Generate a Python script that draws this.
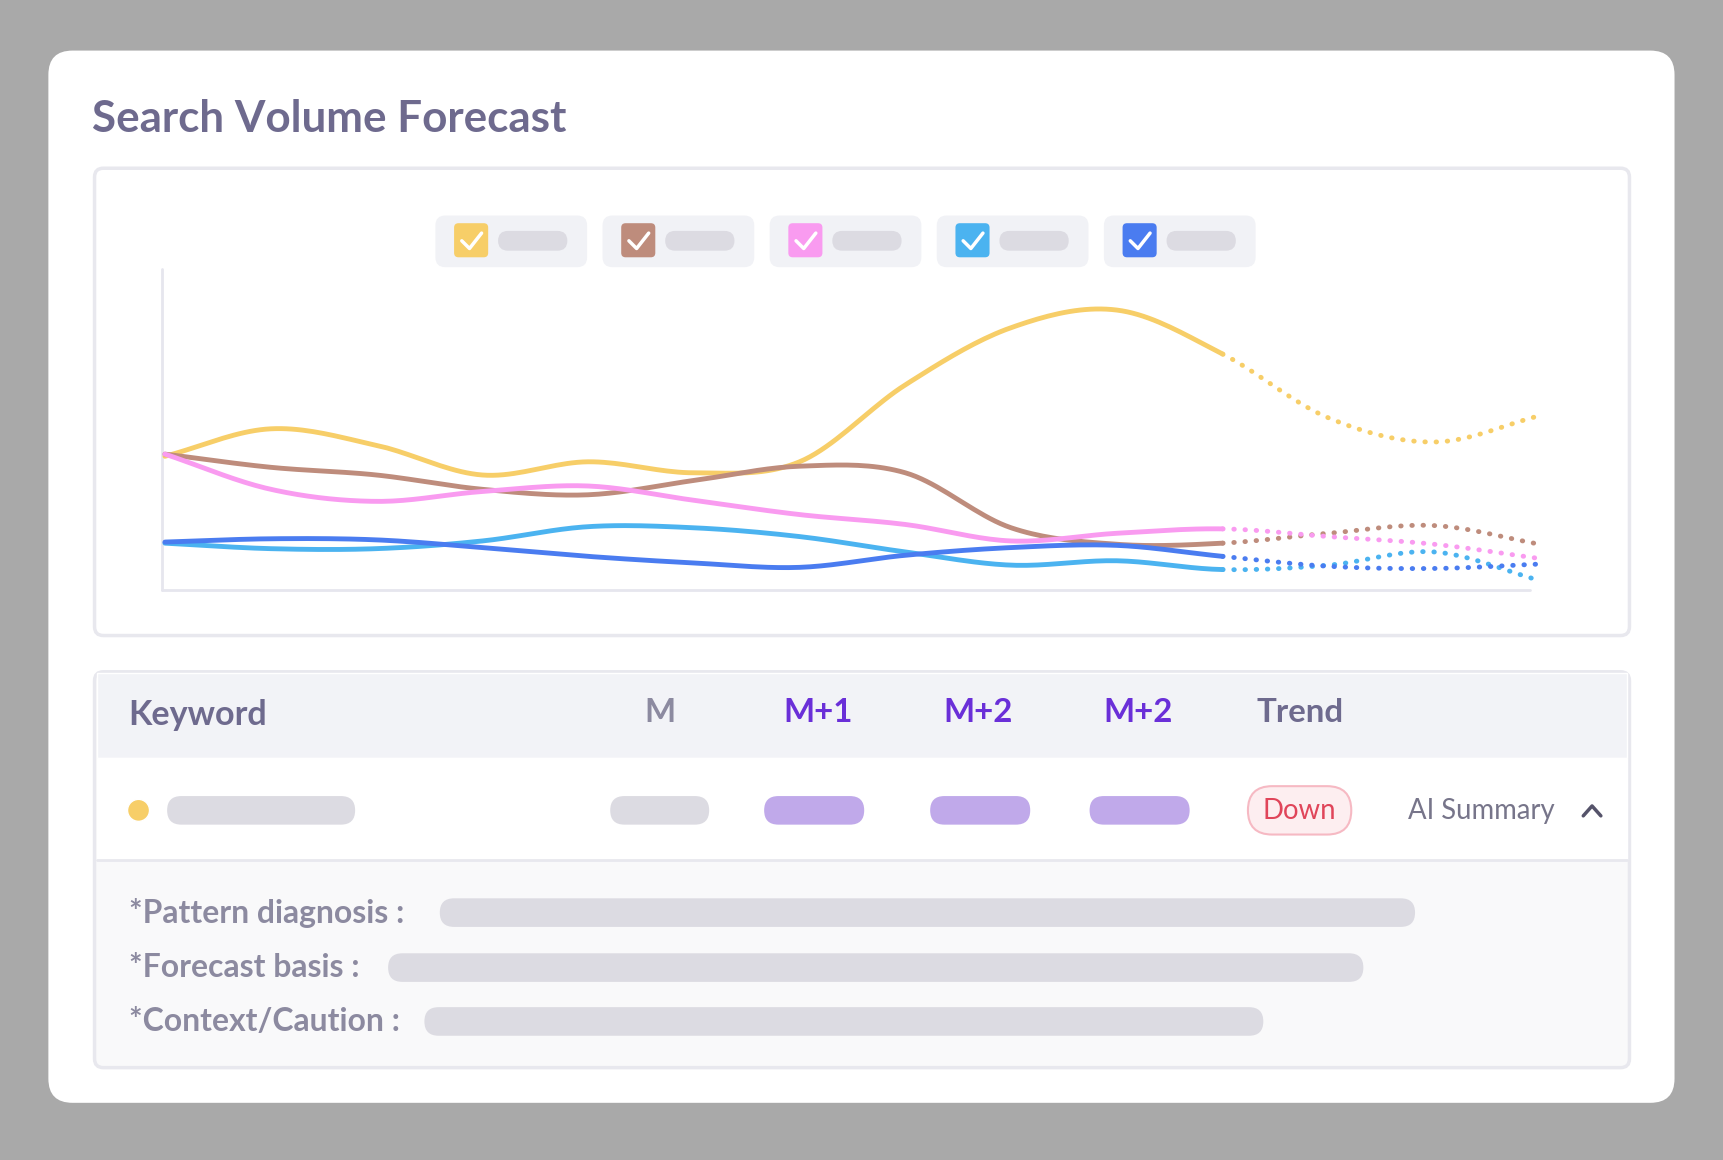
import numpy as np, pandas as pd, seaborn as sns, matplotlib
matplotlib.use("Agg")
import matplotlib.pyplot as plt
from matplotlib.patches import FancyBboxPatch, Circle

sns.set_theme(style="white")
plt.rcParams['font.family'] = ['Lato', 'DejaVu Sans']

# ---- data (pixel-height values above baseline) ----
months = list(range(14))
solid_end = 10
series_names = ["yellow", "brown", "pink", "skyblue", "blue"]
yellow = [415, 390, 405, 432, 420, 430, 420, 350, 298, 282, 322, 380, 402, 378]
brown = [413, 425, 432, 445, 450, 437, 424, 430, 480, 495, 494, 485, 478, 495]
pink = [413, 445, 456, 447, 442, 455, 468, 477, 492, 485, 481, 488, 495, 508]
skyblue = [494, 499, 499, 492, 479, 480, 488, 502, 514, 510, 518, 514, 502, 528]
blue = [493, 490, 491, 498, 506, 512, 516, 505, 498, 496, 506, 515, 517, 513]
colors = ["#F7CE68", "#BE8C7C", "#F99BF0", "#4BB3F0", "#4A7CF0"]
headers = ["M", "M+1", "M+2", "M+2", "Trend"]
summary_labels = ["*Pattern diagnosis :", "*Forecast basis :", "*Context/Caution :"]

W, H = 1568, 1055
fig = plt.figure(figsize=(17.24, 11.6), dpi=100)
fig.patch.set_facecolor("#A9A9A9")
bg = fig.add_axes([0, 0, 1, 1])
bg.set_xlim(0, W); bg.set_ylim(H, 0); bg.axis("off")

def rrect(x0, y0, x1, y1, r, fc, ec="none", lw=0, z=1):
    bg.add_patch(FancyBboxPatch((x0, y0), x1 - x0, y1 - y0,
                 boxstyle=f"round,pad=0,rounding_size={r}", fc=fc, ec=ec, lw=lw, zorder=z))

def pt(px):
    return px * 1.1 * 0.72

rrect(44, 46, 1523, 1003, 22, "white")
bg.text(84, 108, "Search Volume Forecast", fontsize=pt(40), fontweight="bold",
        color="#6E6A8E", va="center", ha="left")
# chart card
rrect(86, 153, 1482, 578, 8, "white", "#E8E8EE", 2.5)
# legend
lx = [396, 548, 700, 852, 1004]
for x, c in zip(lx, colors):
    rrect(x, 196, x + 138, 243, 9, "#F1F2F6", z=2)
    rrect(x + 17, 203, x + 48, 234, 4, c, z=3)
    bg.plot([x + 24, x + 31, x + 42], [219, 226, 212], color="white", lw=2.5, zorder=4,
            solid_capstyle="round")
    rrect(x + 57, 210, x + 120, 228, 9, "#DCDBE2", z=3)
# axis lines
bg.plot([147, 147], [245, 537], color="#E6E6EE", lw=2, zorder=2)
bg.plot([147, 1392], [537, 537], color="#E6E6EE", lw=2, zorder=2)

# chart axes
step = 96.2
x_left, x_right = 147, 1401
ax = fig.add_axes([x_left / W, 1 - 537 / H, (x_right - x_left) / W, (537 - 245) / H])
ax.set_xlim((x_left - 150) / step, (x_right - 150) / step)
ax.set_ylim(537, 245)
ax.axis("off"); ax.patch.set_alpha(0)

def catmull(xs, ys, n=20):
    xs = np.asarray(xs, float); ys = np.asarray(ys, float)
    px = np.concatenate([[2*xs[0]-xs[1]], xs, [2*xs[-1]-xs[-2]]])
    py = np.concatenate([[2*ys[0]-ys[1]], ys, [2*ys[-1]-ys[-2]]])
    ox, oy = [], []
    for i in range(1, len(px) - 2):
        t = np.linspace(0, 1, n, endpoint=False)
        for arr, out in ((px, ox), (py, oy)):
            p0, p1, p2, p3 = arr[i-1], arr[i], arr[i+1], arr[i+2]
            out.extend(0.5*((2*p1) + (-p0+p2)*t + (2*p0-5*p1+4*p2-p3)*t**2 + (-p0+3*p1-3*p2+p3)*t**3))
    ox.append(xs[-1]); oy.append(ys[-1])
    return np.array(ox), np.array(oy)

all_series = [yellow, brown, pink, skyblue, blue]
for vals, c in zip(all_series, colors):
    sx, sy = catmull(months, vals)
    df = pd.DataFrame({"m": sx, "v": sy})
    solid = df[df.m <= solid_end]
    fc = df[df.m >= solid_end]
    sns.lineplot(data=solid, x="m", y="v", ax=ax, color=c, lw=3.5, sort=False, estimator=None)
    sns.lineplot(data=fc, x="m", y="v", ax=ax, color=c, lw=3.5, sort=False, estimator=None,
                 linestyle=(0, (0.1, 2.2)), dash_capstyle="round")
ax.set_xlim((x_left - 150) / step, (x_right - 150) / step)
ax.set_ylim(537, 245); ax.axis("off")

# table
rrect(86, 611, 1482, 971, 8, "#F9F9FA", "#E8E8EE", 2.5)
bg.add_patch(plt.Rectangle((88, 612), 1392, 77, fc="#F2F3F7", zorder=2))
bg.add_patch(plt.Rectangle((88, 689), 1392, 93, fc="white", zorder=2))
bg.plot([88, 1480], [782, 782], color="#E8E8EE", lw=2, zorder=3)
bg.text(117, 650, "Keyword", fontsize=pt(31), fontweight="bold", color="#6E6A8E", va="center", zorder=4)
hx = [600, 744, 890, 1035, 1182]
hc = ["#8C8AA0", "#6A2FD8", "#6A2FD8", "#6A2FD8", "#6E6A8E"]
for x, t, c in zip(hx, headers, hc):
    bg.text(x, 648, t, fontsize=pt(30), fontweight="bold", color=c, va="center", ha="center", zorder=4)
bg.add_patch(Circle((126, 737), 10, fc=colors[0], zorder=4))
rrect(152, 724, 323, 750, 13, "#DCDBE2", z=4)
rrect(555, 724, 645, 750, 13, "#DCDBE2", z=4)
for x0 in [695, 846, 991]:
    rrect(x0, 724, x0 + 91, 750, 13, "#C0A9EA", z=4)
rrect(1135, 715, 1229, 759, 22, "#FDEEF0", "#F6B9C3", 1.5, z=4)
bg.text(1182, 738, "Down", fontsize=pt(25), color="#E0455A", va="center", ha="center", zorder=5)
bg.text(1281, 738, "AI Summary", fontsize=pt(25), color="#77758A", va="center", ha="left", zorder=5)
bg.plot([1440, 1448, 1456], [742, 733, 742], color="#55536A", lw=2.5, zorder=5, solid_capstyle="round")
sy_ = [830, 880, 929]
pills = [(400, 1287), (353, 1240), (386, 1149)]
for y, t, (a, b) in zip(sy_, summary_labels, pills):
    bg.text(117, y, t, fontsize=pt(29), fontweight="bold", color="#8C8AA0", va="center", zorder=4)
    rrect(a, y - 13, b, y + 13, 13, "#DCDBE2", z=4)

fig.savefig("out.png", dpi=100, facecolor=fig.get_facecolor())
